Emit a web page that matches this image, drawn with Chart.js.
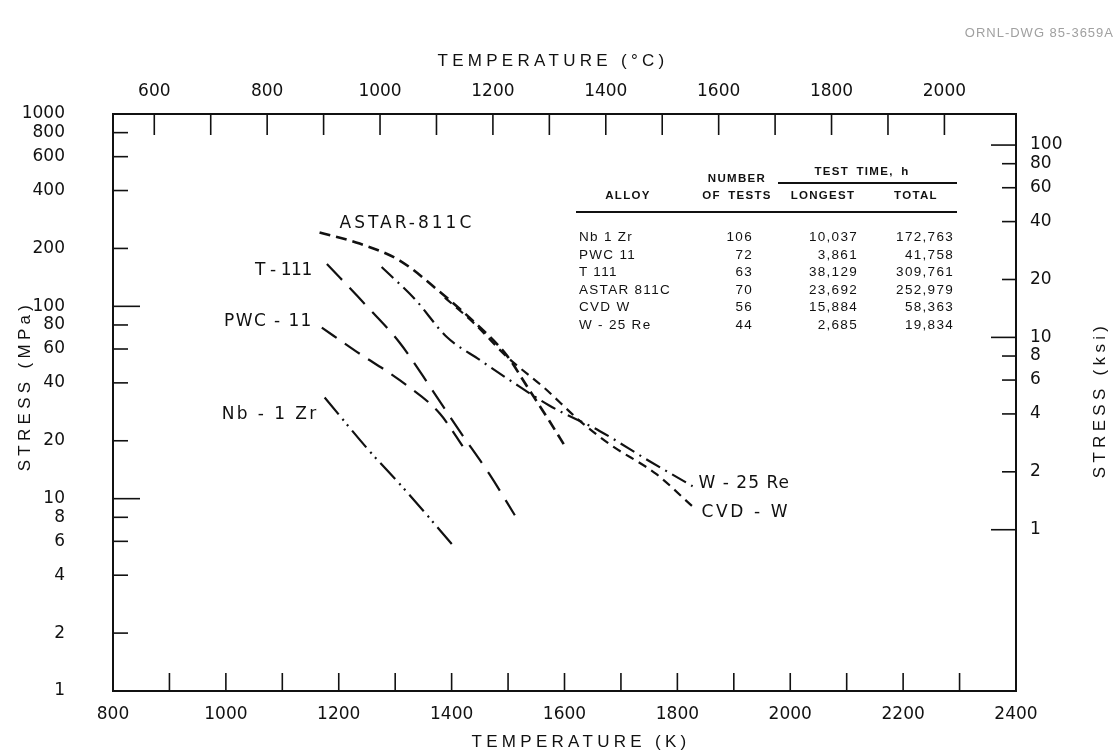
<!DOCTYPE html>
<html>
<head>
<meta charset="utf-8">
<script src="https://cdn.jsdelivr.net/npm/chart.js@4.4.1/dist/chart.umd.min.js"></script>
<style>
  body { margin: 0; background: #fff; }
  #wrap { position: relative; width: 1119px; height: 754px; }
  #dwg { position: absolute; right: 5px; top: 25px; font: 13px 'Liberation Sans', sans-serif; color: #a0a0a0; letter-spacing: 1px; }
  .cell { position: absolute; font-family: 'Liberation Sans', sans-serif; color: #111; white-space: nowrap; }
  .hd { font-size: 11.5px; font-weight: bold; letter-spacing: 1.3px; word-spacing: 3px; }
  .row { font-size: 13.5px; letter-spacing: 1.3px; }
  .rule { position: absolute; height: 1.5px; background: #111; }
</style>
</head>
<body>
<div id="wrap">
  <canvas id="chart"></canvas>
  <div id="dwg">ORNL-DWG 85-3659A</div>
  <div id="table"></div>
</div>
<script>
// Creep-rupture curves, stress (MPa) vs temperature (K)
const astarT = [1166, 1237, 1308, 1379, 1441, 1497, 1538, 1573, 1604];
const astarS = [242, 212, 173, 119, 82.4, 55.9, 36.6, 25.4, 18.1];

const cvdT = [1388, 1441, 1497, 1565, 1627, 1680, 1763, 1827];
const cvdS = [111, 81, 55, 37.5, 25.4, 19.2, 13.4, 9.1];

const wreT = [1276, 1335, 1391, 1450, 1503, 1573, 1662, 1750, 1827];
const wreS = [160, 109, 69.5, 52.6, 41.3, 30.5, 22.5, 15.7, 11.6];

const t111T = [1179, 1250, 1308, 1366, 1414, 1467, 1512];
const t111S = [166, 100, 64.7, 36.6, 22.5, 13.4, 8.2];

const pwcT = [1170, 1232, 1308, 1379, 1423];
const pwcS = [77.5, 58, 41.3, 27.7, 18.1];

const nbT = [1175, 1250, 1320, 1405];
const nbS = [33.6, 18.3, 10.9, 5.6];

// axes
const kTicks = [800, 900, 1000, 1100, 1200, 1300, 1400, 1500, 1600, 1700, 1800, 1900, 2000, 2100, 2200, 2300, 2400];
const kLabels = [800, 1000, 1200, 1400, 1600, 1800, 2000, 2200, 2400];
const cTicks = [600, 700, 800, 900, 1000, 1100, 1200, 1300, 1400, 1500, 1600, 1700, 1800, 1900, 2000];
const cLabels = [600, 800, 1000, 1200, 1400, 1600, 1800, 2000];
const mpaTicks = [1, 2, 4, 6, 8, 10, 20, 40, 60, 80, 100, 200, 400, 600, 800, 1000];
const ksiTicks = [1, 2, 4, 6, 8, 10, 20, 40, 60, 80, 100];

// table
const alloys = ['Nb  1 Zr', 'PWC 11', 'T 111', 'ASTAR 811C', 'CVD W', 'W - 25 Re'];
const nTests = ['106', '72', '63', '70', '56', '44'];
const longest = ['10,037', '3,861', '38,129', '23,692', '15,884', '2,685'];
const total = ['172,763', '41,758', '309,761', '252,979', '58,363', '19,834'];

const KELVIN = 273.15;
const MPA_PER_KSI = 6.895;
const ink = '#111';
const tickFont = { family: 'DejaVu Sans', size: 17 };

// table built as positioned text
const tbl = document.getElementById('table');
function cell(text, cls, left, top, align, width) {
  const d = document.createElement('div');
  d.className = 'cell ' + cls;
  d.textContent = text;
  d.style.top = top + 'px';
  if (align === 'right') { d.style.left = (left - width) + 'px'; d.style.width = width + 'px'; d.style.textAlign = 'right'; }
  else if (align === 'center') { d.style.left = (left - width / 2) + 'px'; d.style.width = width + 'px'; d.style.textAlign = 'center'; }
  else d.style.left = left + 'px';
  tbl.appendChild(d);
}
function rule(x1, x2, y) {
  const r = document.createElement('div');
  r.className = 'rule';
  r.style.left = x1 + 'px'; r.style.width = (x2 - x1) + 'px'; r.style.top = y + 'px';
  tbl.appendChild(r);
}
cell('NUMBER', 'hd', 737, 172, 'center', 90);
cell('TEST TIME, h', 'hd', 862, 165, 'center', 160);
rule(778, 957, 182);
cell('ALLOY', 'hd', 628, 189, 'center', 90);
cell('OF TESTS', 'hd', 737, 189, 'center', 90);
cell('LONGEST', 'hd', 823, 189, 'center', 90);
cell('TOTAL', 'hd', 916, 189, 'center', 90);
rule(576, 957, 211);
alloys.forEach((a, i) => {
  const y = 229 + i * 17.5;
  cell(a, 'row', 579, y, 'left');
  cell(nTests[i], 'row', 753, y, 'right', 60);
  cell(longest[i], 'row', 858, y, 'right', 80);
  cell(total[i], 'row', 954, y, 'right', 80);
});

function pts(xs, ys) { return xs.map((x, i) => ({ x: x, y: ys[i] })); }

function curve(label, xs, ys, dash, width, lab) {
  return Object.assign({
    label: label,
    data: pts(xs, ys),
    borderColor: ink,
    borderWidth: width,
    borderDash: dash,
    pointRadius: 0,
    fill: false,
    tension: 0.4,
    cubicInterpolationMode: 'monotone',
    xAxisID: 'x',
    yAxisID: 'y'
  }, lab);
}

const datasets = [
  curve('ASTAR-811C', astarT, astarS, [11, 6], 2.6, { labelAt: 'start', labelAlign: 'left', dx: 20, dy: -9, ls: 3 }),
  curve('CVD - W', cvdT, cvdS, [9, 6], 2.2, { labelAt: 'end', labelAlign: 'left', dx: 9, dy: 6, ls: 2.6 }),
  curve('W - 25 Re', wreT, wreS, [16, 6, 2, 6], 2.2, { labelAt: 'end', labelAlign: 'left', dx: 6, dy: -3, ls: 1 }),
  curve('T - 111', t111T, t111S, [22, 11], 2.2, { labelAt: 'start', labelAlign: 'right', dx: -15, dy: 7, ls: -0.4 }),
  curve('PWC - 11', pwcT, pwcS, [18, 10], 2.2, { labelAt: 'start', labelAlign: 'right', dx: -9, dy: -6, ls: 1.4 }),
  curve('Nb - 1 Zr', nbT, nbS, [22, 6, 2, 5, 2, 6], 2.2, { labelAt: 'start', labelAlign: 'right', dx: -6, dy: 17, ls: 2.4 })
];

// inward tick marks on all four sides
const frameTicks = {
  id: 'frameTicks',
  afterDraw(chart) {
    const { ctx, chartArea: a, scales } = chart;
    ctx.save();
    ctx.strokeStyle = ink;
    ctx.lineWidth = 1.6;
    const line = (x1, y1, x2, y2) => { ctx.beginPath(); ctx.moveTo(x1, y1); ctx.lineTo(x2, y2); ctx.stroke(); };
    kTicks.forEach(v => {
      if (v <= 800 || v >= 2400) return;
      const x = scales.x.getPixelForValue(v);
      line(x, a.bottom, x, a.bottom - 18);
    });
    cTicks.forEach(v => {
      const x = scales.xc.getPixelForValue(v);
      line(x, a.top, x, a.top + 21);
    });
    mpaTicks.forEach(v => {
      if (v <= 1 || v >= 1000) return;
      const y = scales.y.getPixelForValue(v);
      line(a.left, y, a.left + (v === 100 || v === 10 ? 27 : 15), y);
    });
    ksiTicks.forEach(v => {
      const y = scales.yr.getPixelForValue(v);
      line(a.right, y, a.right - ([100, 10, 1].includes(v) ? 25 : 14), y);
    });
    ctx.restore();
  }
};

// alloy names at the ends of the curves, axis titles
const labelsPlugin = {
  id: 'labelsPlugin',
  afterDatasetsDraw(chart) {
    const { ctx } = chart;
    ctx.save();
    ctx.fillStyle = ink;
    ctx.font = '17px "DejaVu Sans"';
    ctx.textBaseline = 'middle';
    chart.data.datasets.forEach((ds, i) => {
      const els = chart.getDatasetMeta(i).data;
      const p = ds.labelAt === 'end' ? els[els.length - 1] : els[0];
      ctx.letterSpacing = ds.ls + 'px';
      ctx.textAlign = ds.labelAlign;
      ctx.fillText(ds.label, p.x + ds.dx, p.y + ds.dy);
    });
    ctx.restore();
  },
  afterDraw(chart) {
    const { ctx } = chart;
    const title = (text, x, y, rot) => {
      ctx.save();
      ctx.fillStyle = ink;
      ctx.font = '17px "Liberation Sans"';
      ctx.letterSpacing = '4.3px';
      ctx.textAlign = 'center';
      ctx.textBaseline = 'middle';
      ctx.translate(x, y);
      if (rot) ctx.rotate(-Math.PI / 2);
      ctx.fillText(text, 0, 0);
      ctx.restore();
    };
    title('TEMPERATURE (°C)', 553, 61, false);
    title('TEMPERATURE (K)', 581, 742, false);
    ctx.save();
    title('STRESS (MPa)', 25, 386, true);
    title('STRESS (ksi)', 1100, 400, true);
    ctx.restore();
  }
};

function fixedTicks(list) {
  return axis => { axis.ticks = list.map(v => ({ value: v })); };
}
const border = { display: true, color: ink, width: 2 };

new Chart(document.getElementById('chart'), {
  type: 'line',
  data: { datasets: datasets },
  options: {
    responsive: true,
    maintainAspectRatio: false,
    animation: false,
    layout: { padding: 0 },
    plugins: { legend: { display: false }, tooltip: { enabled: false } },
    scales: {
      x: {
        type: 'linear', position: 'bottom', min: 800, max: 2400,
        afterBuildTicks: fixedTicks(kTicks),
        afterFit: s => { s.height = 63; },
        grid: { display: false, drawTicks: false },
        border: border,
        ticks: { color: ink, font: tickFont, padding: 13, autoSkip: false, maxRotation: 0,
          callback: v => kLabels.includes(v) ? String(v) : '' }
      },
      xc: {
        type: 'linear', position: 'top', min: 800 - KELVIN, max: 2400 - KELVIN,
        afterBuildTicks: fixedTicks(cTicks),
        afterFit: s => { s.height = 114; },
        grid: { display: false, drawTicks: false },
        border: border,
        ticks: { color: ink, font: tickFont, padding: 12, autoSkip: false, maxRotation: 0,
          callback: v => cLabels.includes(v) ? String(v) : '' }
      },
      y: {
        type: 'logarithmic', position: 'left', min: 1, max: 1000,
        afterBuildTicks: fixedTicks(mpaTicks),
        afterFit: s => { s.width = 113; },
        grid: { display: false, drawTicks: false },
        border: border,
        ticks: { color: ink, font: tickFont, padding: 48, autoSkip: false,
          callback: v => String(v) }
      },
      yr: {
        type: 'logarithmic', position: 'right', min: 1 / MPA_PER_KSI, max: 1000 / MPA_PER_KSI,
        afterBuildTicks: fixedTicks(ksiTicks),
        afterFit: s => { s.width = 103; },
        grid: { display: false, drawTicks: false },
        border: border,
        ticks: { color: ink, font: tickFont, padding: 14, autoSkip: false,
          callback: v => String(v) }
      }
    }
  },
  plugins: [frameTicks, labelsPlugin]
});
</script>
</body>
</html>
